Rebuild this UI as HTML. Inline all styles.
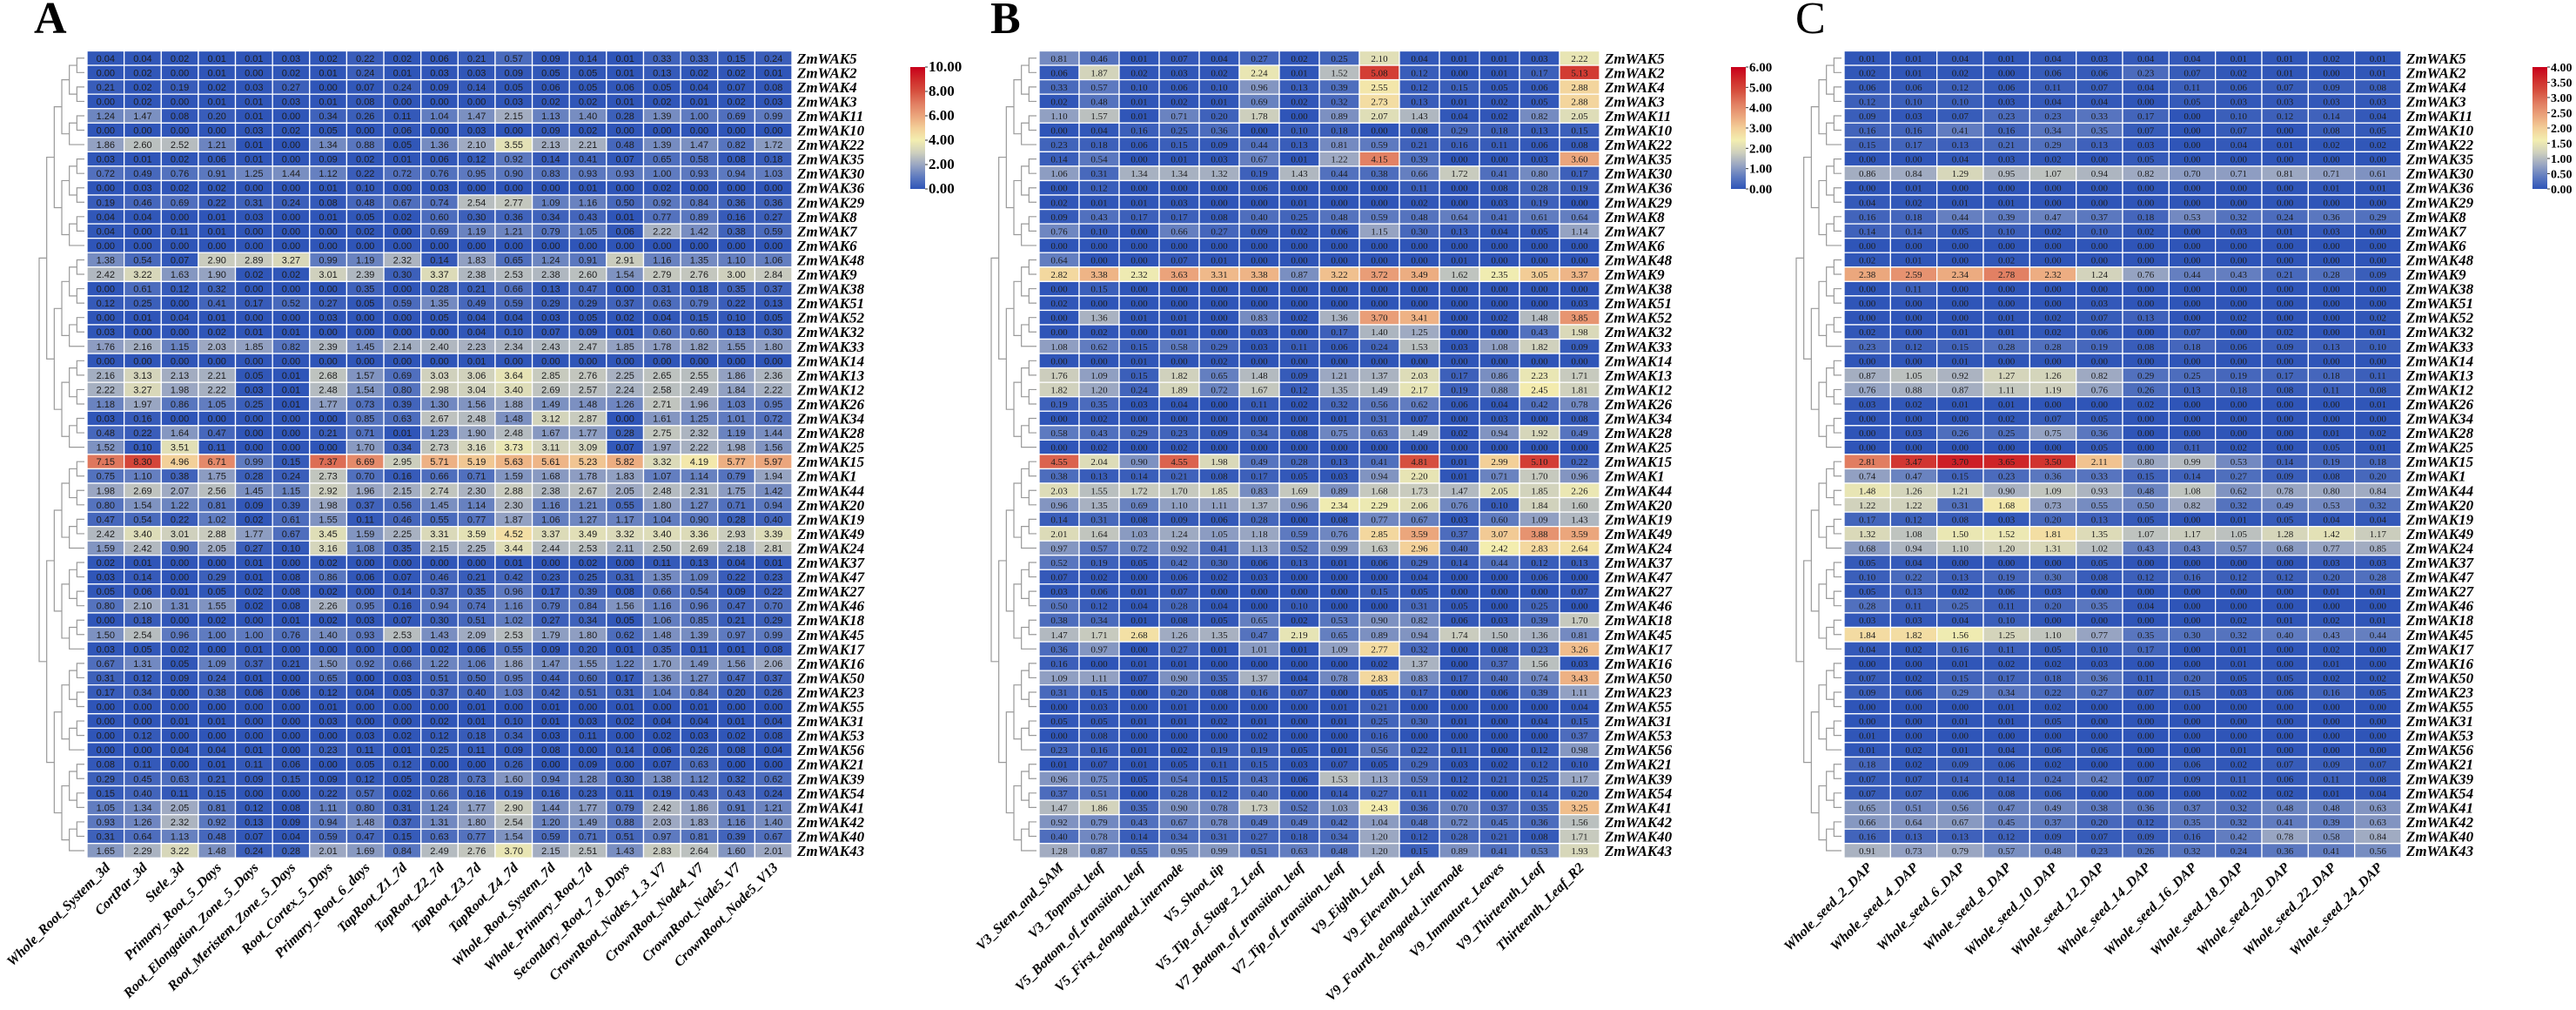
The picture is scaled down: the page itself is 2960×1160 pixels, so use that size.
<!DOCTYPE html>
<html><head><meta charset="utf-8"><style>
html,body{margin:0;padding:0;background:#fff;}
svg{display:block;}
</style></head><body>
<svg id="fig" width="2960" height="1160" viewBox="0 0 2960 1160" xmlns="http://www.w3.org/2000/svg"></svg>
<script>
const genes = ["ZmWAK5","ZmWAK2","ZmWAK4","ZmWAK3","ZmWAK11","ZmWAK10","ZmWAK22","ZmWAK35","ZmWAK30","ZmWAK36","ZmWAK29","ZmWAK8","ZmWAK7","ZmWAK6","ZmWAK48","ZmWAK9","ZmWAK38","ZmWAK51","ZmWAK52","ZmWAK32","ZmWAK33","ZmWAK14","ZmWAK13","ZmWAK12","ZmWAK26","ZmWAK34","ZmWAK28","ZmWAK25","ZmWAK15","ZmWAK1","ZmWAK44","ZmWAK20","ZmWAK19","ZmWAK49","ZmWAK24","ZmWAK37","ZmWAK47","ZmWAK27","ZmWAK46","ZmWAK18","ZmWAK45","ZmWAK17","ZmWAK16","ZmWAK50","ZmWAK23","ZmWAK55","ZmWAK31","ZmWAK53","ZmWAK56","ZmWAK21","ZmWAK39","ZmWAK54","ZmWAK41","ZmWAK42","ZmWAK40","ZmWAK43"];

const colsA = ["Whole_Root_System_3d","CortPar_3d","Stele_3d","Primary_Root_5_Days","Root_Elongation_Zone_5_Days","Root_Meristem_Zone_5_Days","Root_Cortex_5_Days","Primary_Root_6_days","TapRoot_Z1_7d","TapRoot_Z2_7d","TapRoot_Z3_7d","TapRoot_Z4_7d","Whole_Root_System_7d","Whole_Primary_Root_7d","Secondary_Root_7_8_Days","CrownRoot_Nodes_1_3_V7","CrownRoot_Node4_V7","CrownRoot_Node5_V7","CrownRoot_Node5_V13"];
const colsB = ["V3_Stem_and_SAM","V3_Topmost_leaf","V5_Bottom_of_transition_leaf","V5_First_elongated_internode","V5_Shoot_tip","V5_Tip_of_Stage_2_Leaf","V7_Bottom_of_transition_leaf","V7_Tip_of_transition_leaf","V9_Eighth_Leaf","V9_Eleventh_Leaf","V9_Fourth_elongated_internode","V9_Immature_Leaves","V9_Thirteenth_Leaf","Thirteenth_Leaf_R2"];
const colsC = ["Whole_seed_2_DAP","Whole_seed_4_DAP","Whole_seed_6_DAP","Whole_seed_8_DAP","Whole_seed_10_DAP","Whole_seed_12_DAP","Whole_seed_14_DAP","Whole_seed_16_DAP","Whole_seed_18_DAP","Whole_seed_20_DAP","Whole_seed_22_DAP","Whole_seed_24_DAP"];

const valuesA = [
"0.04 0.04 0.02 0.01 0.01 0.03 0.02 0.22 0.02 0.06 0.21 0.57 0.09 0.14 0.01 0.33 0.33 0.15 0.24",
"0.00 0.02 0.00 0.01 0.00 0.02 0.01 0.24 0.01 0.03 0.03 0.09 0.05 0.05 0.01 0.13 0.02 0.02 0.01",
"0.21 0.02 0.19 0.02 0.03 0.27 0.00 0.07 0.24 0.09 0.14 0.05 0.06 0.05 0.06 0.05 0.04 0.07 0.08",
"0.00 0.02 0.00 0.01 0.01 0.03 0.01 0.08 0.00 0.00 0.00 0.03 0.02 0.02 0.01 0.02 0.01 0.02 0.03",
"1.24 1.47 0.08 0.20 0.01 0.00 0.34 0.26 0.11 1.04 1.47 2.15 1.13 1.40 0.28 1.39 1.00 0.69 0.99",
"0.00 0.00 0.00 0.00 0.03 0.02 0.05 0.00 0.06 0.00 0.03 0.00 0.09 0.02 0.00 0.00 0.00 0.00 0.00",
"1.86 2.60 2.52 1.21 0.01 0.00 1.34 0.88 0.05 1.36 2.10 3.55 2.13 2.21 0.48 1.39 1.47 0.82 1.72",
"0.03 0.01 0.02 0.06 0.01 0.00 0.09 0.02 0.01 0.06 0.12 0.92 0.14 0.41 0.07 0.65 0.58 0.08 0.18",
"0.72 0.49 0.76 0.91 1.25 1.44 1.12 0.22 0.72 0.76 0.95 0.90 0.83 0.93 0.93 1.00 0.93 0.94 1.03",
"0.00 0.03 0.02 0.02 0.00 0.00 0.01 0.10 0.00 0.03 0.00 0.00 0.00 0.01 0.00 0.02 0.00 0.00 0.00",
"0.19 0.46 0.69 0.22 0.31 0.24 0.08 0.48 0.67 0.74 2.54 2.77 1.09 1.16 0.50 0.92 0.84 0.36 0.36",
"0.04 0.04 0.00 0.01 0.03 0.00 0.01 0.05 0.02 0.60 0.30 0.36 0.34 0.43 0.01 0.77 0.89 0.16 0.27",
"0.04 0.00 0.11 0.01 0.00 0.00 0.00 0.02 0.00 0.69 1.19 1.21 0.79 1.05 0.06 2.22 1.42 0.38 0.59",
"0.00 0.00 0.00 0.00 0.00 0.00 0.00 0.00 0.00 0.00 0.00 0.00 0.00 0.00 0.00 0.00 0.00 0.00 0.00",
"1.38 0.54 0.07 2.90 2.89 3.27 0.99 1.19 2.32 0.14 1.83 0.65 1.24 0.91 2.91 1.16 1.35 1.10 1.06",
"2.42 3.22 1.63 1.90 0.02 0.02 3.01 2.39 0.30 3.37 2.38 2.53 2.38 2.60 1.54 2.79 2.76 3.00 2.84",
"0.00 0.61 0.12 0.32 0.00 0.00 0.00 0.35 0.00 0.28 0.21 0.66 0.13 0.47 0.00 0.31 0.18 0.35 0.37",
"0.12 0.25 0.00 0.41 0.17 0.52 0.27 0.05 0.59 1.35 0.49 0.59 0.29 0.29 0.37 0.63 0.79 0.22 0.13",
"0.00 0.01 0.04 0.01 0.00 0.00 0.03 0.00 0.00 0.05 0.04 0.04 0.03 0.05 0.02 0.04 0.15 0.10 0.05",
"0.03 0.00 0.00 0.02 0.01 0.01 0.00 0.00 0.00 0.00 0.04 0.10 0.07 0.09 0.01 0.60 0.60 0.13 0.30",
"1.76 2.16 1.15 2.03 1.85 0.82 2.39 1.45 2.14 2.40 2.23 2.34 2.43 2.47 1.85 1.78 1.82 1.55 1.80",
"0.00 0.00 0.00 0.00 0.00 0.00 0.00 0.00 0.00 0.00 0.01 0.00 0.00 0.00 0.00 0.00 0.00 0.00 0.00",
"2.16 3.13 2.13 2.21 0.05 0.01 2.68 1.57 0.69 3.03 3.06 3.64 2.85 2.76 2.25 2.65 2.55 1.86 2.36",
"2.22 3.27 1.98 2.22 0.03 0.01 2.48 1.54 0.80 2.98 3.04 3.40 2.69 2.57 2.24 2.58 2.49 1.84 2.22",
"1.18 1.97 0.86 1.05 0.25 0.01 1.77 0.73 0.39 1.30 1.56 1.88 1.49 1.48 1.26 2.71 1.96 1.03 0.95",
"0.03 0.16 0.00 0.00 0.00 0.00 0.00 0.85 0.63 2.67 2.48 1.48 3.12 2.87 0.00 1.61 1.25 1.01 0.72",
"0.48 0.22 1.64 0.47 0.00 0.00 0.21 0.71 0.01 1.23 1.90 2.48 1.67 1.77 0.28 2.75 2.32 1.19 1.44",
"1.52 0.10 3.51 0.11 0.00 0.00 0.00 1.70 0.34 2.73 3.16 3.73 3.11 3.09 0.07 1.97 2.22 1.98 1.56",
"7.15 8.30 4.96 6.71 0.99 0.15 7.37 6.69 2.95 5.71 5.19 5.63 5.61 5.23 5.82 3.32 4.19 5.77 5.97",
"0.75 1.10 0.38 1.75 0.28 0.24 2.73 0.70 0.16 0.66 0.71 1.59 1.68 1.78 1.83 1.07 1.14 0.79 1.94",
"1.98 2.69 2.07 2.56 1.45 1.15 2.92 1.96 2.15 2.74 2.30 2.88 2.38 2.67 2.05 2.48 2.31 1.75 1.42",
"0.80 1.54 1.22 0.81 0.09 0.39 1.98 0.37 0.56 1.45 1.14 2.30 1.16 1.21 0.55 1.80 1.27 0.71 0.94",
"0.47 0.54 0.22 1.02 0.02 0.61 1.55 0.11 0.46 0.55 0.77 1.87 1.06 1.27 1.17 1.04 0.90 0.28 0.40",
"2.42 3.40 3.01 2.88 1.77 0.67 3.45 1.59 2.25 3.31 3.59 4.52 3.37 3.49 3.32 3.40 3.36 2.93 3.39",
"1.59 2.42 0.90 2.05 0.27 0.10 3.16 1.08 0.35 2.15 2.25 3.44 2.44 2.53 2.11 2.50 2.69 2.18 2.81",
"0.02 0.01 0.00 0.00 0.01 0.00 0.02 0.00 0.00 0.00 0.00 0.01 0.00 0.02 0.00 0.11 0.13 0.04 0.01",
"0.03 0.14 0.00 0.29 0.01 0.08 0.86 0.06 0.07 0.46 0.21 0.42 0.23 0.25 0.31 1.35 1.09 0.22 0.23",
"0.05 0.06 0.01 0.05 0.02 0.08 0.02 0.00 0.14 0.37 0.35 0.96 0.17 0.39 0.08 0.66 0.54 0.09 0.22",
"0.80 2.10 1.31 1.55 0.02 0.08 2.26 0.95 0.16 0.94 0.74 1.16 0.79 0.84 1.56 1.16 0.96 0.47 0.70",
"0.00 0.18 0.00 0.02 0.00 0.01 0.02 0.03 0.07 0.30 0.51 1.02 0.27 0.34 0.05 1.06 0.85 0.21 0.29",
"1.50 2.54 0.96 1.00 1.00 0.76 1.40 0.93 2.53 1.43 2.09 2.53 1.79 1.80 0.62 1.48 1.39 0.97 0.99",
"0.03 0.05 0.02 0.00 0.01 0.00 0.00 0.00 0.00 0.02 0.06 0.55 0.09 0.20 0.01 0.35 0.11 0.01 0.08",
"0.67 1.31 0.05 1.09 0.37 0.21 1.50 0.92 0.66 1.22 1.06 1.86 1.47 1.55 1.22 1.70 1.49 1.56 2.06",
"0.31 0.12 0.09 0.24 0.01 0.00 0.65 0.00 0.03 0.51 0.50 0.95 0.44 0.60 0.17 1.36 1.27 0.47 0.37",
"0.17 0.34 0.00 0.38 0.06 0.06 0.12 0.04 0.05 0.37 0.40 1.03 0.42 0.51 0.31 1.04 0.84 0.20 0.26",
"0.00 0.00 0.00 0.00 0.00 0.00 0.01 0.00 0.00 0.00 0.01 0.00 0.01 0.00 0.01 0.00 0.01 0.00 0.00",
"0.00 0.00 0.01 0.01 0.00 0.00 0.03 0.00 0.00 0.02 0.01 0.10 0.01 0.03 0.02 0.04 0.04 0.01 0.04",
"0.00 0.12 0.00 0.00 0.00 0.00 0.00 0.03 0.02 0.12 0.18 0.34 0.03 0.11 0.00 0.02 0.03 0.02 0.08",
"0.00 0.00 0.04 0.04 0.01 0.00 0.23 0.11 0.01 0.25 0.11 0.09 0.08 0.00 0.14 0.06 0.26 0.08 0.04",
"0.08 0.11 0.00 0.01 0.11 0.06 0.00 0.05 0.12 0.00 0.00 0.26 0.00 0.09 0.00 0.07 0.63 0.00 0.00",
"0.29 0.45 0.63 0.21 0.09 0.15 0.09 0.12 0.05 0.28 0.73 1.60 0.94 1.28 0.30 1.38 1.12 0.32 0.62",
"0.15 0.40 0.11 0.15 0.00 0.00 0.22 0.57 0.02 0.66 0.16 0.19 0.16 0.23 0.11 0.19 0.43 0.43 0.24",
"1.05 1.34 2.05 0.81 0.12 0.08 1.11 0.80 0.31 1.24 1.77 2.90 1.44 1.77 0.79 2.42 1.86 0.91 1.21",
"0.93 1.26 2.32 0.92 0.13 0.09 0.94 1.48 0.37 1.31 1.80 2.54 1.20 1.49 0.88 2.03 1.83 1.16 1.40",
"0.31 0.64 1.13 0.48 0.07 0.04 0.59 0.47 0.15 0.63 0.77 1.54 0.59 0.71 0.51 0.97 0.81 0.39 0.67",
"1.65 2.29 3.22 1.48 0.24 0.28 2.01 1.69 0.84 2.49 2.76 3.70 2.15 2.51 1.43 2.83 2.64 1.60 2.01"];

const valuesB = [
"0.81 0.46 0.01 0.07 0.04 0.27 0.02 0.25 2.10 0.04 0.01 0.01 0.03 2.22",
"0.06 1.87 0.02 0.03 0.02 2.24 0.01 1.52 5.08 0.12 0.00 0.01 0.17 5.13",
"0.33 0.57 0.10 0.06 0.10 0.96 0.13 0.39 2.55 0.12 0.15 0.05 0.06 2.88",
"0.02 0.48 0.01 0.02 0.01 0.69 0.02 0.32 2.73 0.13 0.01 0.02 0.05 2.88",
"1.10 1.57 0.01 0.71 0.20 1.78 0.00 0.89 2.07 1.43 0.04 0.02 0.82 2.05",
"0.00 0.04 0.16 0.25 0.36 0.00 0.10 0.18 0.00 0.08 0.29 0.18 0.13 0.15",
"0.23 0.18 0.06 0.15 0.09 0.44 0.13 0.81 0.59 0.21 0.16 0.11 0.06 0.08",
"0.14 0.54 0.00 0.01 0.03 0.67 0.01 1.22 4.15 0.39 0.00 0.00 0.03 3.60",
"1.06 0.31 1.34 1.34 1.32 0.19 1.43 0.44 0.38 0.66 1.72 0.41 0.80 0.17",
"0.00 0.12 0.00 0.00 0.00 0.06 0.00 0.00 0.00 0.11 0.00 0.08 0.28 0.19",
"0.02 0.01 0.01 0.03 0.00 0.00 0.01 0.00 0.00 0.02 0.00 0.03 0.19 0.00",
"0.09 0.43 0.17 0.17 0.08 0.40 0.25 0.48 0.59 0.48 0.64 0.41 0.61 0.64",
"0.76 0.10 0.00 0.66 0.27 0.09 0.02 0.06 1.15 0.30 0.13 0.04 0.05 1.14",
"0.00 0.00 0.00 0.00 0.00 0.00 0.00 0.00 0.00 0.00 0.00 0.00 0.00 0.00",
"0.64 0.00 0.00 0.07 0.01 0.00 0.00 0.00 0.00 0.00 0.01 0.00 0.00 0.00",
"2.82 3.38 2.32 3.63 3.31 3.38 0.87 3.22 3.72 3.49 1.62 2.35 3.05 3.37",
"0.00 0.15 0.00 0.00 0.00 0.00 0.00 0.00 0.00 0.00 0.00 0.00 0.00 0.00",
"0.02 0.00 0.00 0.00 0.00 0.00 0.00 0.00 0.00 0.00 0.00 0.00 0.00 0.03",
"0.00 1.36 0.01 0.01 0.00 0.83 0.02 1.36 3.70 3.41 0.00 0.02 1.48 3.85",
"0.00 0.02 0.00 0.01 0.00 0.03 0.00 0.17 1.40 1.25 0.00 0.00 0.43 1.98",
"1.08 0.62 0.15 0.58 0.29 0.03 0.11 0.06 0.24 1.53 0.03 1.08 1.82 0.09",
"0.00 0.00 0.01 0.00 0.02 0.00 0.00 0.00 0.00 0.00 0.00 0.00 0.00 0.00",
"1.76 1.09 0.15 1.82 0.65 1.48 0.09 1.21 1.37 2.03 0.17 0.86 2.23 1.71",
"1.82 1.20 0.24 1.89 0.72 1.67 0.12 1.35 1.49 2.17 0.19 0.88 2.45 1.81",
"0.19 0.35 0.03 0.04 0.00 0.11 0.02 0.32 0.56 0.62 0.06 0.04 0.42 0.78",
"0.00 0.02 0.00 0.00 0.00 0.00 0.00 0.01 0.31 0.07 0.00 0.03 0.00 0.08",
"0.58 0.43 0.29 0.23 0.09 0.34 0.08 0.75 0.63 1.49 0.02 0.94 1.92 0.49",
"0.00 0.02 0.00 0.02 0.00 0.00 0.00 0.00 0.00 0.00 0.00 0.00 0.00 0.00",
"4.55 2.04 0.90 4.55 1.98 0.49 0.28 0.13 0.41 4.81 0.01 2.99 5.10 0.22",
"0.38 0.13 0.14 0.21 0.08 0.17 0.05 0.03 0.94 2.20 0.01 0.71 1.70 0.96",
"2.03 1.55 1.72 1.70 1.85 0.83 1.69 0.89 1.68 1.73 1.47 2.05 1.85 2.26",
"0.96 1.35 0.69 1.10 1.11 1.37 0.96 2.34 2.29 2.06 0.76 0.10 1.84 1.60",
"0.14 0.31 0.08 0.09 0.06 0.28 0.00 0.08 0.77 0.67 0.03 0.60 1.09 1.43",
"2.01 1.64 1.03 1.24 1.05 1.18 0.59 0.76 2.85 3.59 0.37 3.07 3.88 3.59",
"0.97 0.57 0.72 0.92 0.41 1.13 0.52 0.99 1.63 2.96 0.40 2.42 2.83 2.64",
"0.52 0.19 0.05 0.42 0.30 0.06 0.13 0.01 0.06 0.29 0.14 0.44 0.12 0.13",
"0.07 0.02 0.00 0.06 0.02 0.03 0.00 0.00 0.00 0.04 0.00 0.00 0.06 0.00",
"0.03 0.06 0.01 0.07 0.00 0.00 0.00 0.00 0.15 0.05 0.00 0.00 0.00 0.07",
"0.50 0.12 0.04 0.28 0.04 0.00 0.10 0.00 0.00 0.31 0.05 0.00 0.25 0.00",
"0.38 0.34 0.01 0.08 0.05 0.65 0.02 0.53 0.90 0.82 0.06 0.03 0.39 1.70",
"1.47 1.71 2.68 1.26 1.35 0.47 2.19 0.65 0.89 0.94 1.74 1.50 1.36 0.81",
"0.36 0.97 0.00 0.27 0.01 1.01 0.01 1.09 2.77 0.32 0.00 0.08 0.23 3.26",
"0.16 0.00 0.01 0.01 0.00 0.00 0.00 0.00 0.02 1.37 0.00 0.37 1.56 0.03",
"1.09 1.11 0.07 0.90 0.35 1.37 0.04 0.78 2.83 0.83 0.17 0.40 0.74 3.43",
"0.31 0.15 0.00 0.20 0.08 0.16 0.07 0.00 0.05 0.17 0.00 0.06 0.39 1.11",
"0.00 0.03 0.00 0.01 0.00 0.00 0.00 0.01 0.21 0.00 0.00 0.00 0.00 0.04",
"0.05 0.05 0.01 0.01 0.02 0.01 0.00 0.01 0.25 0.30 0.01 0.00 0.04 0.15",
"0.00 0.08 0.00 0.00 0.00 0.02 0.00 0.00 0.16 0.00 0.00 0.00 0.00 0.37",
"0.23 0.16 0.01 0.02 0.19 0.19 0.05 0.01 0.56 0.22 0.11 0.00 0.12 0.98",
"0.01 0.07 0.01 0.05 0.11 0.15 0.03 0.07 0.05 0.29 0.03 0.02 0.12 0.10",
"0.96 0.75 0.05 0.54 0.15 0.43 0.06 1.53 1.13 0.59 0.12 0.21 0.25 1.17",
"0.37 0.51 0.00 0.28 0.12 0.40 0.00 0.14 0.27 0.11 0.02 0.00 0.14 0.20",
"1.47 1.86 0.35 0.90 0.78 1.73 0.52 1.03 2.43 0.36 0.70 0.37 0.35 3.25",
"0.92 0.79 0.43 0.67 0.78 0.49 0.49 0.42 1.04 0.48 0.72 0.45 0.36 1.56",
"0.40 0.78 0.14 0.34 0.31 0.27 0.18 0.34 1.20 0.12 0.28 0.21 0.08 1.71",
"1.28 0.87 0.55 0.95 0.99 0.51 0.63 0.48 1.20 0.15 0.89 0.41 0.53 1.93"];

const valuesC = [
"0.01 0.01 0.04 0.01 0.04 0.03 0.04 0.04 0.01 0.01 0.02 0.01",
"0.02 0.01 0.02 0.00 0.06 0.06 0.23 0.07 0.02 0.01 0.00 0.01",
"0.06 0.06 0.12 0.06 0.11 0.07 0.04 0.11 0.06 0.07 0.09 0.08",
"0.12 0.10 0.10 0.03 0.04 0.04 0.00 0.05 0.03 0.03 0.03 0.03",
"0.09 0.03 0.07 0.23 0.23 0.33 0.17 0.00 0.10 0.12 0.14 0.04",
"0.16 0.16 0.41 0.16 0.34 0.35 0.07 0.00 0.07 0.00 0.08 0.05",
"0.15 0.17 0.13 0.21 0.29 0.13 0.03 0.00 0.04 0.01 0.02 0.02",
"0.00 0.00 0.04 0.03 0.02 0.00 0.05 0.00 0.00 0.00 0.00 0.00",
"0.86 0.84 1.29 0.95 1.07 0.94 0.82 0.70 0.71 0.81 0.71 0.61",
"0.00 0.01 0.00 0.00 0.00 0.00 0.00 0.00 0.00 0.00 0.01 0.01",
"0.04 0.02 0.01 0.01 0.00 0.00 0.00 0.00 0.00 0.00 0.00 0.00",
"0.16 0.18 0.44 0.39 0.47 0.37 0.18 0.53 0.32 0.24 0.36 0.29",
"0.14 0.14 0.05 0.10 0.02 0.10 0.02 0.00 0.03 0.01 0.03 0.00",
"0.00 0.00 0.00 0.00 0.00 0.00 0.00 0.00 0.00 0.00 0.00 0.00",
"0.02 0.01 0.00 0.02 0.00 0.00 0.00 0.00 0.00 0.00 0.00 0.00",
"2.38 2.59 2.34 2.78 2.32 1.24 0.76 0.44 0.43 0.21 0.28 0.09",
"0.00 0.11 0.00 0.00 0.00 0.00 0.00 0.00 0.00 0.00 0.00 0.00",
"0.00 0.00 0.00 0.00 0.00 0.03 0.00 0.00 0.00 0.00 0.00 0.00",
"0.00 0.00 0.00 0.01 0.02 0.07 0.13 0.00 0.02 0.00 0.00 0.02",
"0.02 0.00 0.01 0.01 0.02 0.06 0.00 0.07 0.00 0.02 0.00 0.01",
"0.23 0.12 0.15 0.28 0.28 0.19 0.08 0.18 0.06 0.09 0.13 0.10",
"0.00 0.00 0.01 0.00 0.00 0.00 0.00 0.00 0.00 0.00 0.00 0.00",
"0.87 1.05 0.92 1.27 1.26 0.82 0.29 0.25 0.19 0.17 0.18 0.11",
"0.76 0.88 0.87 1.11 1.19 0.76 0.26 0.13 0.18 0.08 0.11 0.08",
"0.03 0.02 0.01 0.01 0.00 0.00 0.02 0.00 0.00 0.00 0.00 0.01",
"0.00 0.00 0.00 0.02 0.07 0.05 0.00 0.00 0.00 0.00 0.00 0.00",
"0.00 0.03 0.26 0.25 0.75 0.36 0.00 0.00 0.00 0.00 0.01 0.02",
"0.00 0.00 0.00 0.00 0.00 0.05 0.00 0.11 0.02 0.00 0.05 0.01",
"2.81 3.47 3.70 3.65 3.50 2.11 0.80 0.99 0.53 0.14 0.19 0.18",
"0.74 0.47 0.15 0.23 0.36 0.33 0.15 0.14 0.27 0.09 0.08 0.20",
"1.48 1.26 1.21 0.90 1.09 0.93 0.48 1.08 0.62 0.78 0.80 0.84",
"1.22 1.22 0.31 1.68 0.73 0.55 0.50 0.82 0.32 0.49 0.53 0.32",
"0.17 0.12 0.08 0.03 0.20 0.13 0.05 0.00 0.01 0.05 0.04 0.04",
"1.32 1.08 1.50 1.52 1.81 1.35 1.07 1.17 1.05 1.28 1.42 1.17",
"0.68 0.94 1.10 1.20 1.31 1.02 0.43 0.43 0.57 0.68 0.77 0.85",
"0.05 0.04 0.00 0.00 0.00 0.05 0.00 0.00 0.00 0.00 0.03 0.03",
"0.10 0.22 0.13 0.19 0.30 0.08 0.12 0.16 0.12 0.12 0.20 0.28",
"0.05 0.13 0.02 0.06 0.03 0.00 0.00 0.00 0.00 0.00 0.01 0.01",
"0.28 0.11 0.25 0.11 0.20 0.35 0.04 0.00 0.00 0.00 0.00 0.00",
"0.03 0.03 0.04 0.10 0.00 0.00 0.00 0.00 0.02 0.01 0.02 0.01",
"1.84 1.82 1.56 1.25 1.10 0.77 0.35 0.30 0.32 0.40 0.43 0.44",
"0.04 0.02 0.16 0.11 0.05 0.10 0.17 0.00 0.01 0.00 0.02 0.00",
"0.00 0.00 0.01 0.02 0.02 0.03 0.00 0.00 0.01 0.00 0.01 0.00",
"0.07 0.02 0.15 0.17 0.18 0.36 0.11 0.20 0.05 0.05 0.02 0.02",
"0.09 0.06 0.29 0.34 0.22 0.27 0.07 0.15 0.03 0.06 0.16 0.05",
"0.00 0.00 0.00 0.01 0.02 0.00 0.00 0.00 0.00 0.00 0.00 0.00",
"0.00 0.00 0.01 0.01 0.05 0.00 0.00 0.00 0.00 0.00 0.00 0.00",
"0.01 0.00 0.00 0.00 0.00 0.00 0.00 0.00 0.00 0.00 0.00 0.00",
"0.01 0.02 0.01 0.04 0.06 0.06 0.00 0.00 0.01 0.00 0.00 0.00",
"0.18 0.02 0.09 0.06 0.02 0.00 0.00 0.06 0.02 0.07 0.09 0.07",
"0.07 0.07 0.14 0.14 0.24 0.42 0.07 0.09 0.11 0.06 0.11 0.08",
"0.07 0.07 0.06 0.08 0.06 0.00 0.00 0.00 0.02 0.02 0.01 0.04",
"0.65 0.51 0.56 0.47 0.49 0.38 0.36 0.37 0.32 0.48 0.48 0.63",
"0.66 0.64 0.67 0.45 0.37 0.20 0.12 0.35 0.32 0.41 0.39 0.63",
"0.16 0.13 0.13 0.12 0.09 0.07 0.09 0.16 0.42 0.78 0.58 0.84",
"0.91 0.73 0.79 0.57 0.48 0.23 0.26 0.32 0.24 0.36 0.41 0.56"];

const ticksA = ["10.00","8.00","6.00","4.00","2.00","0.00"];
const ticksB = ["6.00","5.00","4.00","3.00","2.00","1.00","0.00"];
const ticksC = ["4.00","3.50","3.00","2.50","2.00","1.50","1.00","0.50","0.00"];

const NS = "http://www.w3.org/2000/svg";
const svg = document.getElementById('fig');
function mk(tag, attrs, parent){
  const e = document.createElementNS(NS, tag);
  for (const k in attrs) e.setAttribute(k, attrs[k]);
  (parent||svg).appendChild(e);
  return e;
}
const stops = [[0,[47,85,184]],[0.1,[95,123,192]],[0.2,[155,167,194]],[0.3,[207,208,189]],[0.4,[243,238,176]],[0.5,[243,207,152]],[0.6,[235,165,124]],[0.7,[225,126,98]],[0.8,[214,80,63]],[0.9,[207,42,42]],[1,[200,0,26]]];
function colorOf(t){
  t = Math.max(0, Math.min(1, t));
  for (let i=1;i<stops.length;i++){
    if (t <= stops[i][0]){
      const a=stops[i-1], b=stops[i], f=(t-a[0])/(b[0]-a[0]);
      const c=a[1].map((v,j)=>Math.round(v+(b[1][j]-v)*f));
      return 'rgb('+c.join(',')+')';
    }
  }
  return 'rgb(200,0,26)';
}
const Y0 = 58.5, RH = 16.55;
const yScale = r => Y0 + r*RH;

function panel(cfg){
  const g = mk('g', {});
  
  
  const xScale = c => cfg.x0 + c*cfg.cw;
  // letter
  const L = mk('text', {x: cfg.letterX, y: 38, 'font-family': '"Liberation Serif", serif', 'font-size': 52, 'font-weight': cfg.letterBold ? 'bold' : 'normal'}, g);
  L.textContent = cfg.letter;
  
  
  // cells
  const cells = mk('g', {}, g);
  
  
  cfg.values.forEach((rowStr, r) => {
    const row = rowStr.split(' ').map(Number);
    row.forEach((v, c) => {
      const rect = mk('rect', {x: xScale(c), y: yScale(r), width: cfg.cw, height: RH, fill: colorOf(v / cfg.max), stroke: '#ffffff', 'stroke-width': 1.3}, cells);
      
      
      const t = mk('text', {x: xScale(c) + cfg.cw/2, y: yScale(r) + RH/2 + 4, 'text-anchor': 'middle', 'font-family': cfg.cellFont, 'font-size': cfg.cellSize, fill: '#1d1d1d'}, cells);
      if (cfg.squeeze) t.setAttribute('transform', 'translate(' + (xScale(c)+cfg.cw/2) + ',0) scale(0.85,1) translate(' + (-(xScale(c)+cfg.cw/2)) + ',0)');
      t.textContent = v.toFixed(2);
      
      
    });
  });
  // gene labels
  genes.forEach((gname, r) => {
    const t = mk('text', {x: xScale(cfg.cols.length) + 6, y: yScale(r) + RH/2 + 6, 'font-family': '"Liberation Serif", serif', 'font-size': 17, 'font-weight': 'bold', 'font-style': 'italic'}, g);
    t.textContent = gname;
    
    
  });
  // column labels
  cfg.cols.forEach((cn, c) => {
    const x = xScale(c) + cfg.cw/2 + 6, y = yScale(genes.length) + 12;
    const t = mk('text', {x: x, y: y, 'text-anchor': 'end', transform: 'rotate(-45 ' + x + ' ' + y + ')', 'font-family': '"Liberation Serif", serif', 'font-size': 16, 'font-weight': 'bold', 'font-style': 'italic'}, g);
    t.textContent = cn;
    
    
  });
  // legend
  const gid = 'grad-' + cfg.name;
  const defs = mk('defs', {}, g);
  const lg = mk('linearGradient', {id: gid, x1: 0, y1: 1, x2: 0, y2: 0}, defs);
  stops.forEach(s => mk('stop', {offset: s[0], 'stop-color': 'rgb(' + s[1].join(',') + ')'}, lg));
  const leg = mk('g', {}, g);
  
  
  const lx = cfg.legX, ly0 = 77, ly1 = 217;
  mk('rect', {x: lx, y: ly0, width: 17, height: ly1 - ly0, fill: 'url(#' + gid + ')'}, leg);
  cfg.ticks.forEach((tk, i) => {
    const y = ly0 + (ly1 - ly0) * (cfg.max - Number(tk)) / cfg.max;
    mk('line', {x1: lx + 17, x2: lx + 20, y1: y, y2: y, stroke: '#333', 'stroke-width': 1}, leg);
    const t = mk('text', {x: lx + 21, y: y + 5, 'font-family': '"Liberation Serif", serif', 'font-size': cfg.tickSize, 'font-weight': 'bold'}, leg);
    t.textContent = tk;
    
    
  });
  // dendrogram (balanced tree over row order)
  const dg = mk('g', {}, g);
  
  
  const right = cfg.x0 - 3, step = cfg.dendW / 6;
  function build(a, b){
    if (a === b) return {y: yScale(a) + RH/2, d: 0};
    const m = Math.floor((a + b) / 2);
    const L1 = build(a, m), R1 = build(m + 1, b);
    const d = Math.max(L1.d, R1.d) + 1;
    const x = right - d * step;
    const xl = right - L1.d * step, xr = right - R1.d * step;
    mk('path', {d: 'M' + xl + ' ' + L1.y + 'H' + x + 'V' + R1.y + 'H' + xr, fill: 'none', stroke: '#9a9a9a', 'stroke-width': 1.2}, dg);
    return {y: (L1.y + R1.y) / 2, d: d};
  }
  build(0, genes.length - 1);
}

panel({name: 'root', letter: 'A', letterX: 39, letterBold: true, x0: 100, cw: 810/19, cols: colsA, values: valuesA, max: 10, ticks: ticksA, legX: 1046, tickSize: 17, cellFont: '"Liberation Sans Narrow", "Liberation Sans", sans-serif', cellSize: 11, squeeze: false, dendW: 52});
panel({name: 'leaf', letter: 'B', letterX: 1138, letterBold: true, x0: 1194, cw: 644/14, cols: colsB, values: valuesB, max: 6, ticks: ticksB, legX: 1989, tickSize: 15, cellFont: '"Liberation Serif", serif', cellSize: 11, squeeze: false, dendW: 52});
panel({name: 'seed', letter: 'C', letterX: 2063, letterBold: false, x0: 2119, cw: 640/12, cols: colsC, values: valuesC, max: 4, ticks: ticksC, legX: 2910, tickSize: 14, cellFont: '"Liberation Serif", serif', cellSize: 11, squeeze: false, dendW: 52});
</script>
</body></html>
